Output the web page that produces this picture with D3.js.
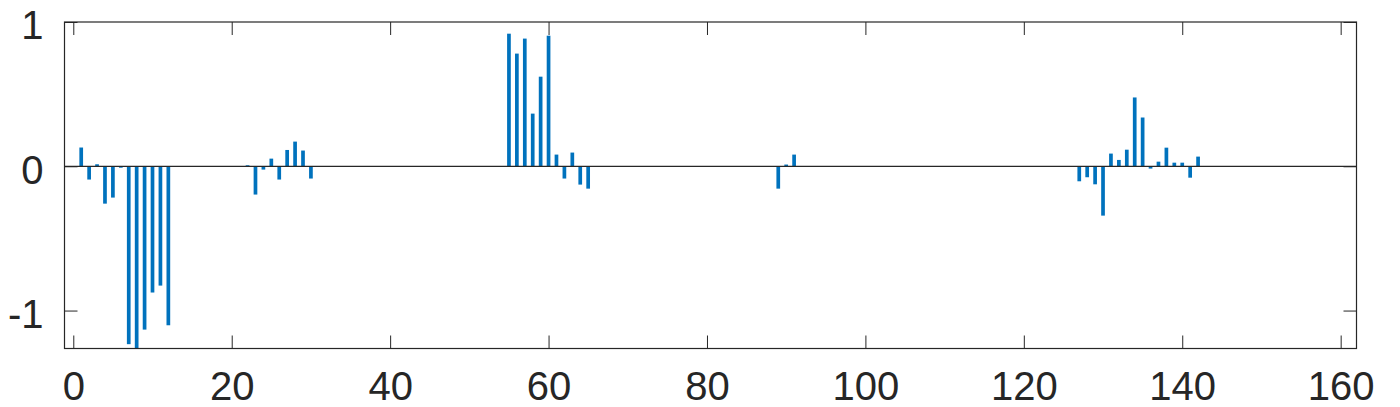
<!DOCTYPE html>
<html>
<head>
<meta charset="utf-8">
<script src="https://cdn.jsdelivr.net/npm/d3@7"></script>
<style>
  html, body { margin: 0; padding: 0; background: #fff; }
  svg { display: block; }
</style>
</head>
<body>
<svg id="chart" width="1400" height="407"></svg>
<script>
// ---- data ----
const positions = [1, 2, 3, 4, 5, 6, 7, 8, 9, 10, 11, 12,
  22, 23, 24, 25, 26, 27, 28, 29, 30,
  55, 56, 57, 58, 59, 60, 61, 62, 63, 64, 65,
  89, 90, 91,
  127, 128, 129, 130, 131, 132, 133, 134, 135, 136, 137, 138, 139, 140, 141, 142];
const values = [0.13, -0.092, 0.014, -0.259, -0.217, -0.01, -1.233, -1.32, -1.132, -0.875, -0.827, -1.102,
  0.007, -0.196, -0.023, 0.053, -0.092, 0.113, 0.171, 0.109, -0.085,
  0.919, 0.781, 0.885, 0.365, 0.621, 0.905, 0.081, -0.085, 0.095, -0.127, -0.155,
  -0.155, 0.012, 0.081,
  -0.104, -0.076, -0.125, -0.342, 0.088, 0.044, 0.115, 0.477, 0.338, -0.016, 0.032, 0.129, 0.025, 0.025, -0.079, 0.067];
const xTicks = [0, 20, 40, 60, 80, 100, 120, 140, 160];
const yTicks = [-1, 0, 1];
const yTickLabels = ["-1", "0", "1"];

(function () {
// ---- layout ----
const mL = 64.5, mR = 1356.5, mT = 22, mB = 348.5;
const x = d3.scaleLinear().domain([-1.11, 162]).range([mL, mR]);
const y = d3.scaleLinear().domain([-1.263, 1]).range([mB, mT]);

const svg = d3.select("#chart");
const axisColor = "#262626";
const font = "'Liberation Sans', Arial, Helvetica, sans-serif";

svg.append("defs").append("clipPath").attr("id", "clip")
  .append("rect").attr("x", mL).attr("y", mT)
  .attr("width", mR - mL).attr("height", mB - mT);

// bars
const barW = 3.7;
svg.append("g").attr("clip-path", "url(#clip)")
  .selectAll("rect").data(positions).join("rect")
  .attr("x", (d) => x(d) - barW / 2)
  .attr("width", barW)
  .attr("y", (d, i) => y(Math.max(0, values[i])))
  .attr("height", (d, i) => Math.abs(y(values[i]) - y(0)))
  .attr("fill", "#0072BD");

// zero baseline
svg.append("line")
  .attr("x1", mL).attr("x2", mR)
  .attr("y1", y(0)).attr("y2", y(0))
  .attr("stroke", axisColor).attr("stroke-width", 1.2);

// axes (inner ticks, box)
const tickLen = 13;
const gx = svg.append("g").attr("transform", `translate(0,${mB})`)
  .call(d3.axisBottom(x).tickValues(xTicks).tickFormat((d) => String(d)).tickSizeInner(-tickLen).tickSizeOuter(0));
gx.select(".domain").remove();
gx.selectAll(".tick line").attr("stroke", axisColor);
gx.selectAll(".tick text").attr("fill", axisColor).attr("font-family", font)
  .attr("font-size", 40).attr("dy", null).attr("y", 51.5);

const gxt = svg.append("g").attr("transform", `translate(0,${mT})`)
  .call(d3.axisTop(x).tickValues(xTicks).tickSizeInner(-tickLen).tickSizeOuter(0).tickFormat(""));
gxt.select(".domain").remove();
gxt.selectAll(".tick line").attr("stroke", axisColor);

const gy = svg.append("g").attr("transform", `translate(${mL},0)`)
  .call(d3.axisLeft(y).tickValues(yTicks).tickFormat((d, i) => yTickLabels[i]).tickSizeInner(-tickLen).tickSizeOuter(0));
gy.select(".domain").remove();
gy.selectAll(".tick line").attr("stroke", axisColor);
gy.selectAll(".tick text").attr("fill", axisColor).attr("font-family", font)
  .attr("font-size", 40).attr("dy", "0.42em").attr("x", -21);

const gyr = svg.append("g").attr("transform", `translate(${mR},0)`)
  .call(d3.axisRight(y).tickValues(yTicks).tickSizeInner(-tickLen).tickSizeOuter(0).tickFormat(""));
gyr.select(".domain").remove();
gyr.selectAll(".tick line").attr("stroke", axisColor);

// box
svg.append("rect")
  .attr("x", mL).attr("y", mT)
  .attr("width", mR - mL).attr("height", mB - mT)
  .attr("fill", "none").attr("stroke", axisColor).attr("stroke-width", 1.2);
})();
</script>
</body>
</html>
